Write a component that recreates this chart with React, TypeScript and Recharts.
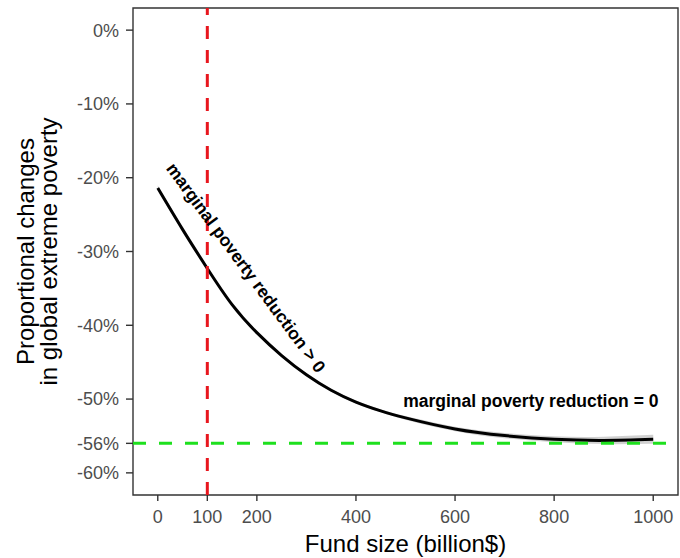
import {
  ComposedChart,
  Line,
  Area,
  XAxis,
  YAxis,
  ReferenceLine,
  ReferenceArea,
  ReferenceDot,
} from 'recharts'

// fitted curve: fund size (billion $) vs proportional change in extreme poverty (%)
const fundSize = [0, 50, 100, 150, 200, 250, 300, 350, 400, 450, 500, 600, 700, 800, 900, 1000]
const povertyChange = [-21.4, -27.0, -32.3, -37.2, -41.0, -44.1, -46.7, -48.8, -50.4, -51.6, -52.55, -54.05, -54.95, -55.45, -55.6, -55.45]
// half width of the confidence ribbon around the fit
const ribbonHalf = [0.35, 0.25, 0.2, 0.2, 0.2, 0.2, 0.2, 0.2, 0.2, 0.2, 0.25, 0.3, 0.35, 0.4, 0.5, 0.6]

const xTicks = [0, 100, 200, 400, 600, 800, 1000]
const yTicks = [0, -10, -20, -30, -40, -50, -56, -60]

const fundThreshold = 100
const povertyFloor = -56

const FONT = '"Liberation Sans", Arial, Helvetica, sans-serif'

const chartData = fundSize.map((x, i) => ({
  x,
  y: povertyChange[i],
  ribbon: [povertyChange[i] - ribbonHalf[i], povertyChange[i] + ribbonHalf[i]],
}))

function XTitle({ viewBox }: any) {
  const cx = viewBox.x + viewBox.width / 2
  return (
    <text x={cx} y={viewBox.y + 57} textAnchor="middle" fontSize={24} fill="#000" fontFamily={FONT}>
      Fund size (billion$)
    </text>
  )
}

function YTitle({ viewBox }: any) {
  const cy = viewBox.y + viewBox.height / 2
  return (
    <g fontSize={24} fill="#000" fontFamily={FONT} textAnchor="middle">
      <text x={34} y={cy} transform={`rotate(-90, 34, ${cy})`}>Proportional changes</text>
      <text x={57} y={cy} transform={`rotate(-90, 57, ${cy})`}>in global extreme poverty</text>
    </g>
  )
}

function Note({ viewBox, text, angle }: any) {
  const cx = viewBox.x + viewBox.width / 2
  const cy = viewBox.y + viewBox.height / 2
  return (
    <text
      x={cx}
      y={cy}
      textAnchor="middle"
      dominantBaseline="central"
      fontSize={17.5}
      fontWeight="bold"
      fill="#000"
      fontFamily={FONT}
      transform={angle ? `rotate(${angle}, ${cx}, ${cy})` : undefined}
    >
      {text}
    </text>
  )
}

export default function App() {
  return (
    <div style={{ position: 'absolute', left: 0, top: 0, background: '#fff', fontFamily: FONT }}>
      <ComposedChart width={680} height={558} data={chartData} margin={{ top: 8, right: 2, bottom: 0, left: 0 }}>
        <XAxis
          type="number"
          dataKey="x"
          domain={[-50, 1050]}
          ticks={xTicks}
          interval={0}
          allowDataOverflow
          axisLine={false}
          height={63}
          tickSize={6}
          tickMargin={9}
          tick={{ fill: '#4d4d4d', fontSize: 18, fontFamily: FONT }}
          tickLine={{ stroke: '#333', strokeWidth: 1.4 }}
          label={{ content: XTitle }}
        />
        <YAxis
          type="number"
          domain={[-63, 3]}
          ticks={yTicks}
          interval={0}
          allowDataOverflow
          axisLine={false}
          width={133}
          tickSize={7}
          tickMargin={7}
          tickFormatter={(v: number) => `${v}%`}
          tick={{ fill: '#4d4d4d', fontSize: 18, fontFamily: FONT }}
          tickLine={{ stroke: '#333', strokeWidth: 1.4 }}
          label={{ content: YTitle }}
        />
        <ReferenceArea x1={-50} x2={1050} y1={-63} y2={3} fill="none" stroke="#333" strokeWidth={1.4} />
        <Area
          type="natural"
          dataKey="ribbon"
          stroke="none"
          fill="#999"
          fillOpacity={0.45}
          isAnimationActive={false}
        />
        <Line
          type="natural"
          dataKey="y"
          stroke="#000"
          strokeWidth={3}
          dot={false}
          isAnimationActive={false}
        />
        <ReferenceLine x={fundThreshold} stroke="#e8161e" strokeWidth={3} strokeDasharray="13 11" />
        <ReferenceLine y={povertyFloor} stroke="#1ee01e" strokeWidth={3} strokeDasharray="13 13" />
        <ReferenceDot
          x={178}
          y={-32.2}
          r={1}
          fill="none"
          stroke="none"
          label={{ content: (p: any) => <Note {...p} text="marginal poverty reduction > 0" angle={53.6} /> }}
        />
        <ReferenceDot
          x={753}
          y={-50.3}
          r={1}
          fill="none"
          stroke="none"
          label={{ content: (p: any) => <Note {...p} text="marginal poverty reduction = 0" /> }}
        />
      </ComposedChart>
    </div>
  )
}
